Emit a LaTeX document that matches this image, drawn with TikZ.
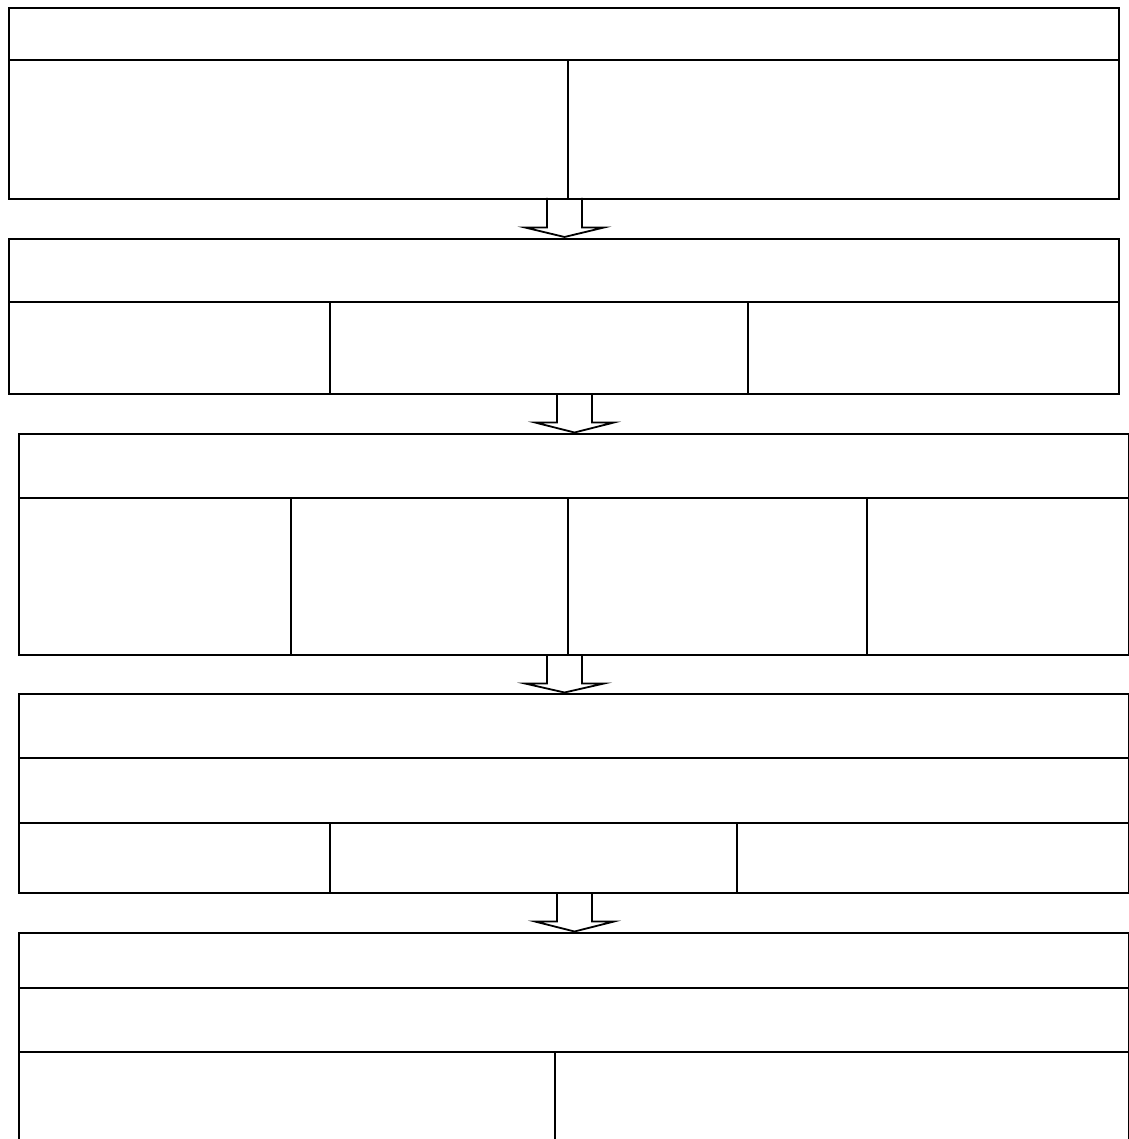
\documentclass[tikz,border=0pt]{standalone}
\usetikzlibrary{calc}
\tikzset{
  cell/.style={draw=black, line width=2pt, rectangle, inner sep=0pt, anchor=north west, fill=white},
  blockarrow/.style={draw=black, line width=1.8pt, line join=miter},
}
\newcommand{\mycell}[5]{\node[cell, minimum width=#4pt, minimum height=#5pt] (#1) at (#2,#3) {};}
\newcommand{\myarrow}[4]{% name, center x, top y, tip y
  \coordinate (#1top) at (#2,#3);
  \coordinate (#1tip) at (#2,#4);
  \draw[blockarrow] ($(#1top)+(-17.5,0)$) -- ($(#1top)+(-17.5,29.5)$) -- ($(#1top)+(-39.5,29.5)$)
     -- (#1tip) -- ($(#1top)+(39.5,29.5)$) -- ($(#1top)+(17.5,29.5)$) -- ($(#1top)+(17.5,0)$);
}
\begin{document}
\begin{tikzpicture}[x=1pt,y=-1pt]
\useasboundingbox[fill=white] (0,0) rectangle (1128,1139);
% Block 1
\mycell{aH}{8}{7}{1110}{52}
\mycell{aA}{8}{59}{559}{139}
\mycell{aB}{567}{59}{551}{139}
% Block 2
\mycell{bH}{8}{238}{1110}{63}
\mycell{bA}{8}{301}{321}{92}
\mycell{bB}{329}{301}{418}{92}
\mycell{bC}{747}{301}{371}{92}
% Block 3
\mycell{cH}{18}{433}{1110}{64}
\mycell{cA}{18}{497}{272}{157}
\mycell{cB}{290}{497}{277}{157}
\mycell{cC}{567}{497}{299}{157}
\mycell{cD}{866}{497}{262}{157}
% Block 4
\mycell{dH}{18}{693}{1110}{64}
\mycell{dS}{18}{757}{1110}{65}
\mycell{dA}{18}{822}{311}{70}
\mycell{dB}{329}{822}{407}{70}
\mycell{dC}{736}{822}{392}{70}
% Block 5
\mycell{eH}{18}{932}{1110}{55}
\mycell{eS}{18}{987}{1110}{64}
\mycell{eA}{18}{1051}{536}{92}
\mycell{eB}{554}{1051}{574}{92}
% Arrows
\myarrow{p}{564.5}{198}{237}
\myarrow{q}{574.5}{393}{432.5}
\myarrow{r}{564.5}{654}{692.5}
\myarrow{s}{574.5}{892}{931.5}
\end{tikzpicture}
\end{document}
